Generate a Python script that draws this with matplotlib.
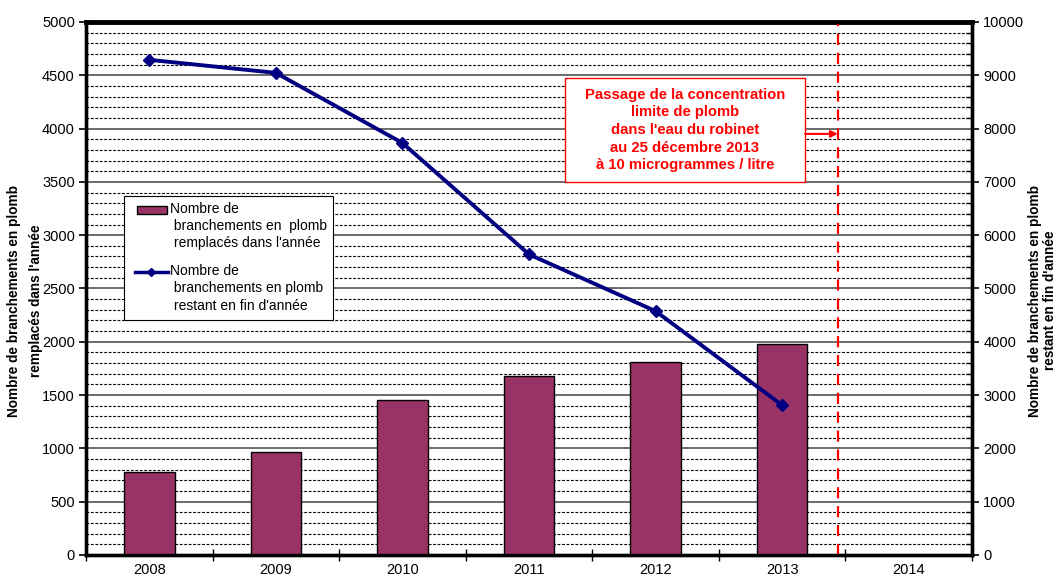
import matplotlib
matplotlib.use("Agg")
import matplotlib.pyplot as plt
from matplotlib.patches import Rectangle
from matplotlib.lines import Line2D
from matplotlib.ticker import MultipleLocator, FixedLocator, NullFormatter

plt.rcParams['font.family'] = ['Liberation Sans', 'DejaVu Sans']

# data
years = ['2008', '2009', '2010', '2011', '2012', '2013', '2014']
replaced = [780, 970, 1455, 1680, 1810, 1975]          # bars, left axis
remaining = [9290, 9045, 7730, 5640, 4575, 2810]       # line, right axis
deadline_x = 5.44   # 25 Dec 2013 on the category axis
bar_label = "Nombre de\n branchements en  plomb\n remplacés dans l'année"
line_label = "Nombre de\n branchements en plomb\n restant en fin d'année"

bar_color = '#993366'
line_color = '#000080'

fig = plt.figure(figsize=(10.56, 5.78), dpi=100)
ax = fig.add_axes([0.0814, 0.0398, 0.8391, 0.9222])
ax2 = ax.twinx()

x = list(range(len(replaced)))
ax.bar(x, replaced, width=0.4, color=bar_color, edgecolor='black', linewidth=1.0,
       zorder=3)
ax2.plot(x, remaining, color=line_color, lw=2.8, marker='D', markersize=6, zorder=4)

ax.set_xlim(-0.5, len(years) - 0.5)
ax.set_ylim(0, 5000)
ax2.set_ylim(0, 10000)

# grid: solid every 500, dashed every 100
ax.yaxis.set_major_locator(MultipleLocator(500))
ax.yaxis.set_minor_locator(MultipleLocator(100))
ax.grid(which='minor', axis='y', color='black', lw=0.8, ls=(0, (2.5, 1.5)), zorder=0)
ax.grid(which='major', axis='y', color='#606060', lw=1.3, ls='-', zorder=0)
ax.set_axisbelow(True)

ax.tick_params(axis='y', which='major', direction='out', length=5, width=1.2,
               labelsize=10.5, colors='black', pad=3)
ax.tick_params(axis='y', which='minor', length=0)

ax2.yaxis.set_major_locator(MultipleLocator(1000))
ax2.yaxis.set_minor_locator(MultipleLocator(200))
ax2.tick_params(axis='y', which='major', direction='out', length=5, width=1.2,
                labelsize=10.5, pad=3)
ax2.tick_params(axis='y', which='minor', direction='in', length=4, width=1)

# category labels centred, tick marks on boundaries
ax.xaxis.set_major_locator(FixedLocator([i - 0.5 for i in range(len(years) + 1)]))
ax.xaxis.set_major_formatter(NullFormatter())
ax.xaxis.set_minor_locator(FixedLocator(range(len(years))))
ax.set_xticklabels(years, minor=True)
ax.tick_params(axis='x', which='major', direction='inout', length=8, width=1)
ax.tick_params(axis='x', which='minor', length=0, labelsize=10.5, pad=6)

for a in (ax, ax2):
    for s in a.spines.values():
        s.set_linewidth(2.4)
ax.spines['top'].set_linewidth(3.5)

fig.text(0.024, 0.48, "Nombre de branchements en plomb\nremplacés dans l'année",
         rotation=90, ha='center', va='center', fontsize=9.8, fontweight='bold',
         linespacing=1.7)
fig.text(0.9875, 0.48, "Nombre de branchements en plomb\nrestant en fin d'année",
         rotation=90, ha='center', va='center', fontsize=9.8, fontweight='bold',
         linespacing=1.1)

# deadline marker and note
ax.axvline(deadline_x, color='red', lw=1.6, ls=(0, (5, 3.5)), zorder=4)
ax2.add_patch(Rectangle((0.5406, 0.700), 0.2709, 0.195, transform=ax.transAxes,
                        facecolor='white', edgecolor='red', lw=1.0, zorder=6))
ax2.text(0.676, 0.7975,
         "Passage de la concentration\nlimite de plomb\ndans l'eau du robinet\n"
         "au 25 décembre 2013\nà 10 microgrammes / litre",
         transform=ax.transAxes, ha='center', va='center', color='red',
         fontsize=10.7, fontweight='bold', linespacing=1.33, zorder=7)
ax2.annotate('', xy=(deadline_x, 0.79), xycoords=('data', 'axes fraction'),
             xytext=(0.8115, 0.79), textcoords='axes fraction',
             arrowprops=dict(arrowstyle='-|>', color='red', lw=1.5,
                             mutation_scale=10, shrinkA=0, shrinkB=0), zorder=7)

# legend drawn by hand: handles sit on the first text line as in the original
T = ax.transAxes
ax2.add_patch(Rectangle((0.0429, 0.4409), 0.2359, 0.2326, transform=T,
                        facecolor='white', edgecolor='black', lw=0.8, zorder=8))
ax2.add_patch(Rectangle((0.0576, 0.6398), 0.0339, 0.015, transform=T,
                        facecolor=bar_color, edgecolor='black', lw=1.0, zorder=9))
ax2.add_line(Line2D([0.0553, 0.0926], [0.531, 0.531], transform=T, color=line_color,
                    lw=2.5, zorder=9))
ax2.add_line(Line2D([0.0734], [0.531], transform=T, color=line_color, marker='D',
                    markersize=4.5, zorder=9))
ax2.text(0.0948, 0.663, bar_label, transform=T, ha='left', va='top', fontsize=10,
         linespacing=1.3, zorder=9)
ax2.text(0.0948, 0.546, line_label, transform=T, ha='left', va='top', fontsize=10,
         linespacing=1.3, zorder=9)

fig.savefig('out.png', dpi=100)
